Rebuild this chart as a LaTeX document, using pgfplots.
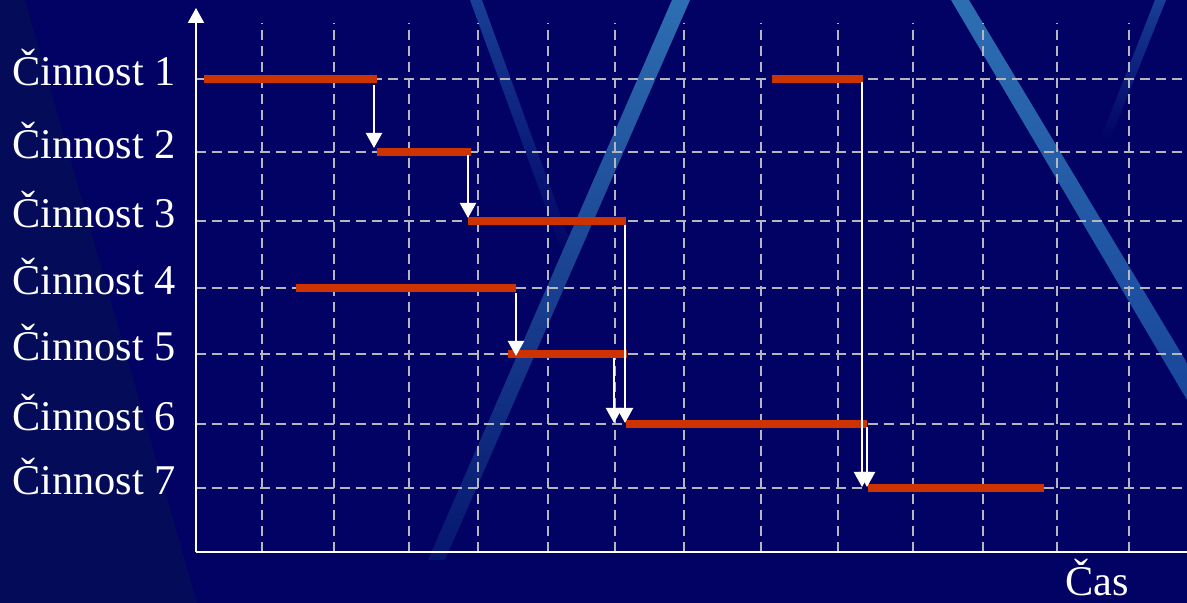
\documentclass[border=0pt]{standalone}
\usepackage{pgfplots}
\pgfplotsset{compat=1.18}
\usepackage{fontspec}
\setmainfont{Liberation Serif}
\usetikzlibrary{arrows.meta}
\definecolor{bgnavy}{RGB}{1,2,100}
\definecolor{leftshade}{RGB}{4,12,90}
\definecolor{stripeTop}{RGB}{45,110,178}
\definecolor{stripeMid}{RGB}{25,70,155}
\definecolor{stripeBot}{RGB}{6,22,112}
\definecolor{stripeB}{RGB}{24,62,150}
\definecolor{gridgray}{RGB}{182,182,190}
\definecolor{barred}{RGB}{204,51,0}
\begin{document}
\begin{tikzpicture}[x=1bp,y=1bp]
% background and decorative stripes
\fill[bgnavy] (0,0) rectangle (1187,603);
\fill[leftshade] (0,0) -- (0,603) -- (25,603) -- (197,0) -- cycle;
\shade[top color=stripeB, bottom color=bgnavy] (470,603) -- (482,603) -- (578,340) -- (566,340) -- cycle;
\shade[top color=stripeTop, bottom color=stripeBot] (672,603) -- (690,603) -- (445,43) -- (428,43) -- cycle;
\shade[top color=stripeTop, bottom color=stripeMid] (951,603) -- (969,603) -- (1187,240) -- (1187,203) -- cycle;
\shade[top color=stripeB, bottom color=bgnavy] (1155,603) -- (1166,603) -- (1110,463) -- (1100,463) -- cycle;
\begin{axis}[
  at={(196bp,51bp)}, anchor=south west,
  scale only axis, width=991bp, height=529bp,
  xmin=196, xmax=1187, ymin=51, ymax=580,
  axis lines=left,
  axis line style={white, line width=2bp},
  x axis line style={-},
  y axis line style={-{Triangle[width=16bp,length=15bp]}, shorten >=-15bp},
  grid=major,
  grid style={gridgray, line width=2.4bp, dash pattern=on 10bp off 6bp},
  xtick={262,334,409,478,548,615,684,761,838,913,983,1057,1129},
  xticklabels={},
  ytick={115,179,249,315,382,451,524},
  yticklabels={Činnost 7,Činnost 6,Činnost 5,Činnost 4,Činnost 3,Činnost 2,Činnost 1},
  major tick length=0pt,
  tick style={draw=none},
  yticklabel style={font=\fontsize{42.5}{50}\selectfont, text=white, anchor=base east, inner sep=0pt, xshift=-20bp, yshift=-7bp},
  xlabel={Čas},
  xlabel style={at={(axis cs:1097,7)}, anchor=base, font=\fontsize{42.5}{50}\selectfont, text=white, inner sep=0pt},
  clip=false,
]
% activity bars
\addplot[barred, line width=8bp, no markers] coordinates {(204,524) (377,524)};
\addplot[barred, line width=8bp, no markers] coordinates {(772,524) (863,524)};
\addplot[barred, line width=8bp, no markers] coordinates {(377,451) (471,451)};
\addplot[barred, line width=8bp, no markers] coordinates {(468,382) (626,382)};
\addplot[barred, line width=8bp, no markers] coordinates {(296,315) (516,315)};
\addplot[barred, line width=8bp, no markers] coordinates {(508,249) (627,249)};
\addplot[barred, line width=8bp, no markers] coordinates {(626,179) (867,179)};
\addplot[barred, line width=8bp, no markers] coordinates {(868,115) (1044,115)};
% dependency arrows
\addplot[white, line width=2.2bp, no markers, -{Triangle[width=16bp,length=15bp]}] coordinates {(374,518) (374,455)};
\addplot[white, line width=2.2bp, no markers, -{Triangle[width=16bp,length=15bp]}] coordinates {(468,448) (468,385)};
\addplot[white, line width=2.2bp, no markers, -{Triangle[width=16bp,length=15bp]}] coordinates {(516,310) (516,247)};
\addplot[white, line width=2.2bp, no markers, -{Triangle[width=16bp,length=15bp]}] coordinates {(614,245) (614,180)};
\addplot[white, line width=2.2bp, no markers, -{Triangle[width=16bp,length=15bp]}] coordinates {(625,378) (625,180)};
\addplot[white, line width=2.2bp, no markers, -{Triangle[width=16bp,length=15bp]}] coordinates {(862,521) (862,116)};
\addplot[white, line width=2.2bp, no markers, -{Triangle[width=16bp,length=15bp]}] coordinates {(867,176) (867,116)};
\end{axis}
\pgfresetboundingbox
\path (0,0) rectangle (1187,603);
\end{tikzpicture}
\end{document}
